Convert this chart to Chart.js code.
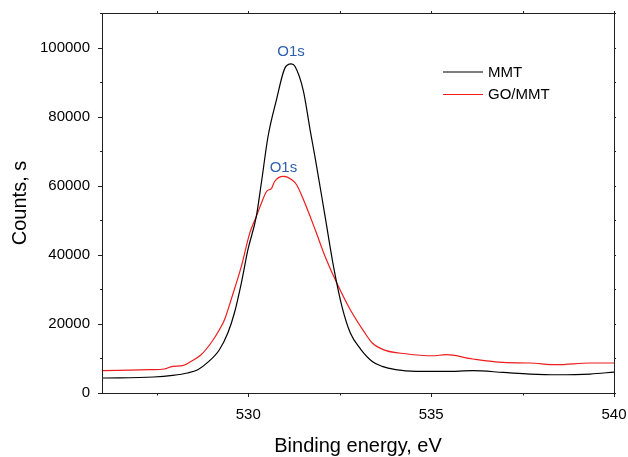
<!DOCTYPE html>
<html>
<head>
<meta charset="utf-8">
<script src="https://cdn.jsdelivr.net/npm/chart.js@4.4.0/dist/chart.umd.min.js"></script>
<style>
  html, body { margin: 0; padding: 0; background: #fff; }
  #wrap { width: 628px; height: 457px; }
</style>
</head>
<body>
<div id="wrap"><canvas id="xpsChart" width="628" height="457"></canvas></div>
<script>
// values
const mmtEnergy = [526.00, 527.41, 527.93, 528.34, 528.62, 528.89, 529.21, 529.44, 529.62, 529.81, 529.99, 530.22, 530.36, 530.54, 530.77, 531.00, 531.17, 531.28, 531.51, 531.69, 531.83, 532.10, 532.33, 532.56, 532.79, 533.07, 533.39, 533.66, 534.03, 534.58, 535.41, 536.14, 536.97, 537.70, 538.43, 539.35, 540.00];
const mmtCounts = [4340, 4630, 5090, 5790, 6740, 8850, 12530, 17360, 23150, 31830, 41470, 51100, 61000, 74250, 84870, 94040, 95280, 94500, 87270, 76190, 68000, 51100, 36630, 25060, 17360, 12730, 9140, 7700, 6740, 6250, 6250, 6450, 5960, 5490, 5290, 5490, 6070];

const goEnergy = [526.00, 527.33, 527.70, 527.93, 528.20, 528.43, 528.71, 528.98, 529.21, 529.35, 529.53, 529.81, 530.04, 530.22, 530.36, 530.50, 530.64, 530.72, 530.96, 531.19, 531.32, 531.51, 531.83, 532.10, 532.42, 532.79, 533.16, 533.39, 533.75, 534.30, 535.04, 535.41, 536.14, 536.97, 537.70, 538.43, 539.35, 540.00];
const goCounts = [6450, 6740, 6940, 7700, 7900, 9140, 11080, 14470, 18310, 21200, 27000, 36630, 46300, 51100, 55000, 58330, 59320, 61230, 62680, 61720, 60270, 55930, 47250, 39530, 31830, 24100, 17820, 14470, 12330, 11370, 10790, 11080, 9840, 8850, 8680, 8190, 8680, 8680];

const seriesNames = ['MMT', 'GO/MMT'];
const peakNames = ['O1s', 'O1s'];
const peakEnergy = [531.17, 530.96];
const peakLabelCounts = [98800, 65100];

const xMin = 526, xMax = 540, xStep = 2.5, xLabelStep = 5;
const yMin = 0, yMax = 110000, yStep = 10000, yLabelStep = 20000;

const FONT = 'Arial, "Liberation Sans", sans-serif';
const AXIS_COLOR = '#231f20';

function toPoints(xs, ys) {
    return xs.map((x, i) => ({ x: x, y: ys[i] }));
}

const framePlugin = {
    id: 'frame',
    afterDatasetsDraw(chart) {
        const { ctx, chartArea: a, scales: { x, y } } = chart;
        ctx.save();
        ctx.strokeStyle = AXIS_COLOR;
        ctx.lineWidth = 1;
        ctx.strokeRect(Math.round(a.left) + 0.5, Math.round(a.top) + 0.5,
            Math.round(a.right - a.left), Math.round(a.bottom - a.top));

        ctx.beginPath();
        x.ticks.forEach(t => {
            const px = Math.round(x.getPixelForValue(t.value)) + 0.5;
            const major = Math.abs(t.value % xLabelStep) < 1e-6;
            const len = major ? 4 : 2.5;
            ctx.moveTo(px, a.bottom); ctx.lineTo(px, a.bottom + len);
            ctx.moveTo(px, a.top); ctx.lineTo(px, a.top - 2);
        });
        y.ticks.forEach(t => {
            const py = Math.round(y.getPixelForValue(t.value)) + 0.5;
            const major = t.value % yLabelStep === 0;
            const len = major ? 4 : 2;
            ctx.moveTo(a.left, py); ctx.lineTo(a.left - len, py);
            ctx.moveTo(a.right, py); ctx.lineTo(a.right + 2, py);
        });
        ctx.stroke();

        // peak labels
        ctx.fillStyle = '#2e5fae';
        ctx.font = '15px ' + FONT;
        ctx.textAlign = 'center';
        ctx.textBaseline = 'middle';
        peakNames.forEach((name, i) => {
            ctx.fillText(name, x.getPixelForValue(peakEnergy[i]), y.getPixelForValue(peakLabelCounts[i]));
        });

        // legend
        ctx.textAlign = 'left';
        ctx.fillStyle = '#000';
        chart.data.datasets.forEach((ds, i) => {
            const ly = 72 + i * 22.5;
            ctx.strokeStyle = ds.borderColor;
            ctx.lineWidth = 1.2;
            ctx.beginPath();
            ctx.moveTo(443, ly); ctx.lineTo(483, ly);
            ctx.stroke();
            ctx.fillText(ds.label, 488, ly + 0.5);
        });
        ctx.restore();
    }
};

new Chart(document.getElementById('xpsChart'), {
    type: 'line',
    data: {
        datasets: [{
            label: seriesNames[0],
            data: toPoints(mmtEnergy, mmtCounts),
            borderColor: '#000000',
            borderWidth: 1.2,
            pointRadius: 0,
            cubicInterpolationMode: 'monotone'
        }, {
            label: seriesNames[1],
            data: toPoints(goEnergy, goCounts),
            borderColor: '#ee1c1c',
            borderWidth: 1.2,
            pointRadius: 0,
            cubicInterpolationMode: 'monotone'
        }]
    },
    options: {
        responsive: false,
        animation: false,
        layout: { padding: { top: 13, right: 14, left: 0, bottom: 0 } },
        plugins: { legend: { display: false }, tooltip: { enabled: false } },
        scales: {
            x: {
                type: 'linear',
                min: xMin,
                max: xMax,
                afterBuildTicks: (scale) => {
                    const ticks = [];
                    for (let v = Math.ceil(xMin / xStep) * xStep; v <= xMax + 1e-9; v += xStep) ticks.push({ value: v });
                    scale.ticks = ticks;
                },
                afterFit: (scale) => {
                    scale.height = 64;
                    scale.paddingLeft = 0;
                    scale.paddingRight = 0;
                },
                grid: { display: false, drawTicks: false },
                border: { display: false },
                ticks: {
                    padding: 13,
                    color: '#000',
                    font: { family: FONT, size: 15 },
                    maxRotation: 0,
                    autoSkip: false,
                    callback: (v) => (Math.abs(v % xLabelStep) < 1e-6 ? v : '')
                },
                title: {
                    display: true,
                    text: 'Binding energy, eV',
                    color: '#000',
                    font: { family: FONT, size: 20 },
                    padding: { top: 0, bottom: -1 }
                }
            },
            y: {
                min: yMin,
                max: yMax,
                afterFit: (scale) => {
                    scale.width = 102;
                    scale.paddingTop = 0;
                    scale.paddingBottom = 0;
                },
                grid: { display: false, drawTicks: false },
                border: { display: false },
                ticks: {
                    stepSize: yStep,
                    padding: 12,
                    color: '#000',
                    font: { family: FONT, size: 15 },
                    autoSkip: false,
                    callback: (v) => (v % yLabelStep === 0 && v <= 100000 ? v : '')
                },
                title: {
                    display: true,
                    text: 'Counts, s',
                    color: '#000',
                    font: { family: FONT, size: 20 },
                    padding: { top: 8, bottom: 0 }
                }
            }
        }
    },
    plugins: [framePlugin]
});
</script>
</body>
</html>
